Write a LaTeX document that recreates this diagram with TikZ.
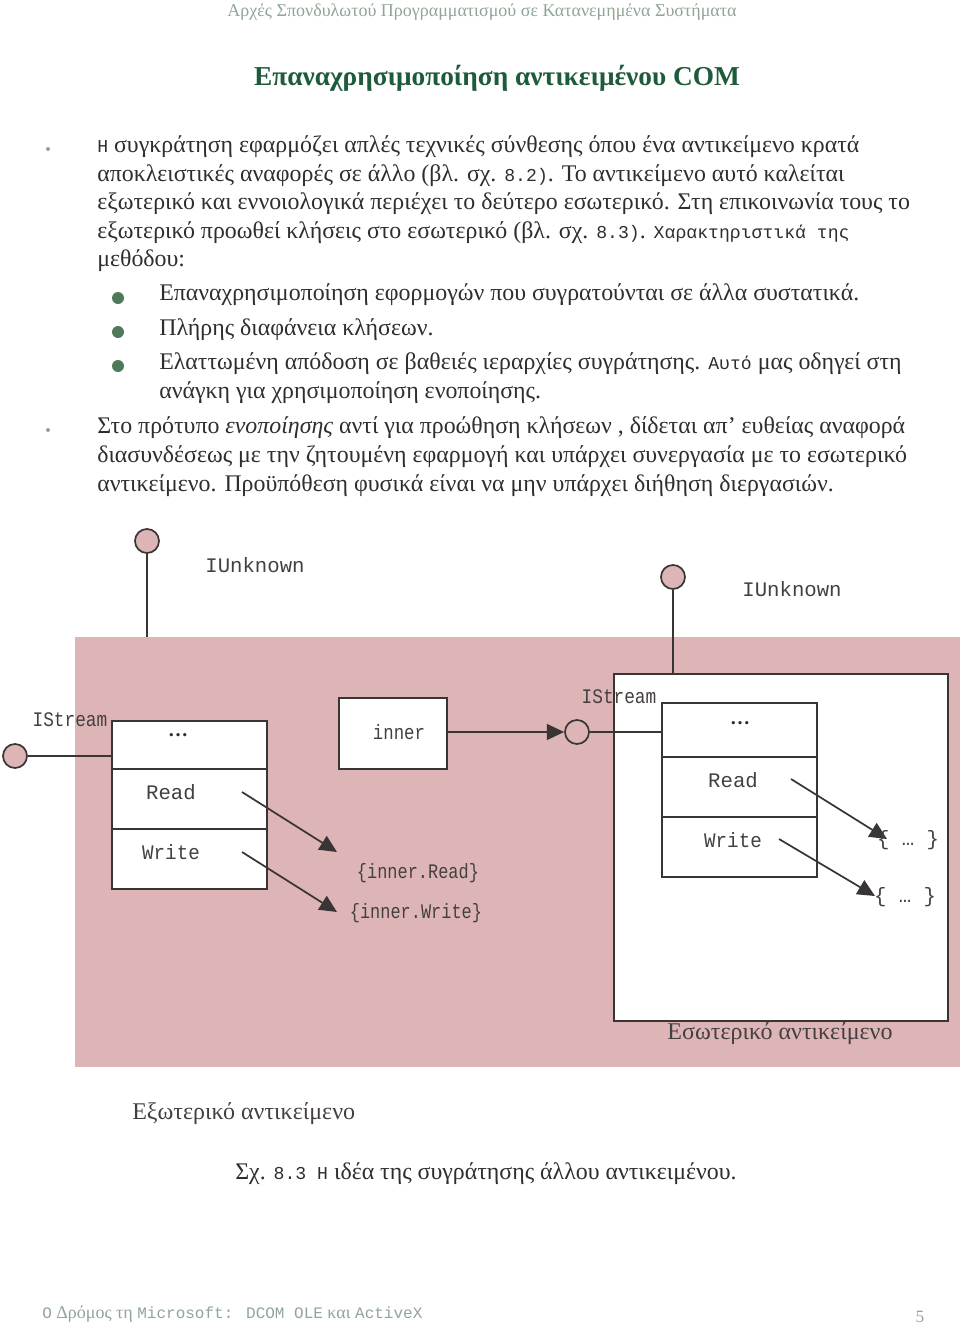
\documentclass[tikz,border=0pt]{standalone}
\usepackage{fontspec}
\setmainfont{Liberation Serif}
\newfontfamily\monof{Liberation Mono}
\usetikzlibrary{arrows.meta}
\definecolor{pinkbg}{HTML}{DEB5B6}
\definecolor{ln}{HTML}{3A3535}
\definecolor{titlegreen}{HTML}{1E5B3A}
\definecolor{headgrey}{HTML}{8FA595}
\definecolor{dotgreen}{HTML}{4E7A5C}
\definecolor{txt}{HTML}{2E2E2E}
\definecolor{dtxt}{HTML}{454040}
\newcommand\bodyf{\fontsize{17.9}{21}\selectfont}
\newcommand\bm[1]{{\monof\fontsize{13.6}{16}\selectfont #1}}
\newcommand\dgm{\monof\fontsize{15.5}{18}\selectfont}
\newcommand\nar[2]{\scalebox{#1}[1]{#2}}
\newcommand\fm[1]{{\monof\fontsize{12}{14}\selectfont #1}}
\begin{document}
\begin{tikzpicture}[x=0.75pt,y=-0.75pt,
  bodyline/.style={anchor=west,inner sep=0pt,text=txt,font=\bodyf},
  bigdot/.style={circle,fill=dotgreen,minimum size=9pt,inner sep=0pt},
  smalldot/.style={circle,fill=headgrey,minimum size=3pt,inner sep=0pt},
  cell/.style={draw=ln,line width=1.3pt,fill=white,minimum width=116.25pt,inner sep=0pt},
  lolli/.style={circle,draw=ln,line width=1.3pt,fill=pinkbg,minimum size=18pt,inner sep=0pt},
  wire/.style={draw=ln,line width=1.3pt},
  arr/.style={draw=ln,line width=1.3pt,-{Triangle[length=13pt,width=12pt]}},
  dlabel/.style={inner sep=0pt,text=dtxt,font=\dgm},
]
\useasboundingbox (0,0) rectangle (960,1324);
% header and title
\node[inner sep=0pt,text=headgrey,font=\fontsize{13.5}{16}\selectfont] (head) at (482,12) {Αρχές Σπονδυλωτού Προγραμματισμού σε Κατανεμημένα Συστήματα};
\node[inner sep=0pt,text=titlegreen,font=\bfseries\fontsize{20.5}{24}\selectfont] (title) at (497,78) {Επαναχρησιμοποίηση αντικειμένου COM};
% paragraph 1
\node[smalldot] (b1) at (48,149) {};
\node[bodyline] (p1a) at (97,147) {\bm{Η} συγκράτηση εφαρμόζει απλές τεχνικές σύνθεσης όπου ένα αντικείμενο κρατά};
\node[bodyline] (p1b) at (97,176) {αποκλειστικές αναφορές σε άλλο (βλ. σχ. \bm{8.2)}. Το αντικείμενο αυτό καλείται};
\node[bodyline] (p1c) at (97,204) {εξωτερικό και εννοιολογικά περιέχει το δεύτερο εσωτερικό. Στη επικοινωνία τους το};
\node[bodyline] (p1d) at (97,233) {εξωτερικό προωθεί κλήσεις στο εσωτερικό (βλ. σχ. \bm{8.3)}. \bm{Χαρακτηριστικά της}};
\node[bodyline] (p1e) at (97,261) {μεθόδου:};
% sub bullets
\node[bigdot] (s1) at (118,298) {};
\node[bigdot] (s2) at (118,332) {};
\node[bigdot] (s3) at (118,366) {};
\node[bodyline] (s1t) at (159,295) {Επαναχρησιμοποίηση εφορμογών που συγρατούνται σε άλλα συστατικά.};
\node[bodyline] (s2t) at (159,330) {Πλήρης διαφάνεια κλήσεων.};
\node[bodyline] (s3t) at (159,364) {Ελαττωμένη απόδοση σε βαθειές ιεραρχίες συγράτησης. \bm{Αυτό} μας οδηγεί στη};
\node[bodyline] (s3u) at (159,393) {ανάγκη για χρησιμοποίηση ενοποίησης.};
% paragraph 2
\node[smalldot] (b2) at (48,430) {};
\node[bodyline] (p2a) at (97,428) {Στο πρότυπο \textit{ενοποίησης} αντί για προώθηση κλήσεων , δίδεται απ’ ευθείας αναφορά};
\node[bodyline] (p2b) at (97,457) {διασυνδέσεως με την ζητουμένη εφαρμογή και υπάρχει συνεργασία με το εσωτερικό};
\node[bodyline] (p2c) at (97,486) {αντικείμενο. Προϋπόθεση φυσικά είναι να μην υπάρχει διήθηση διεργασιών.};
% diagram background (outer object)
\node[fill=pinkbg,inner sep=0pt,minimum width=663.75pt,minimum height=322.5pt,anchor=north west] (bg) at (75,637) {};
% inner object
\node[draw=ln,line width=1.3pt,fill=white,inner sep=0pt,minimum width=250.5pt,minimum height=260.25pt,anchor=north west] (inobj) at (613,673) {};
% left interface box
\node[cell,minimum height=36pt,anchor=north west] (l1) at (111,720) {};
\node[cell,minimum height=45pt,anchor=north west] (l2) at (111,768) {};
\node[cell,minimum height=45pt,anchor=north west] (l3) at (111,828) {};
\node[inner sep=0pt,font=\bfseries\fontsize{15}{18}\selectfont,text=txt] (l1t) at (178,735) {…};
\node[dlabel] (l2t) at (171,792) {Read};
\node[dlabel] (l3t) at (171,852) {\nar{0.93}{Write}};
% inner reference box
\node[draw=ln,line width=1.3pt,fill=white,inner sep=0pt,minimum width=81pt,minimum height=53.25pt,anchor=north west] (inner) at (338,697) {};
\node[dlabel] (innert) at (399,732) {\nar{0.84}{inner}};
% right interface box
\node[cell,minimum height=40.5pt,anchor=north west] (r1) at (661,702) {};
\node[cell,minimum height=45pt,anchor=north west] (r2) at (661,756) {};
\node[cell,minimum height=45pt,anchor=north west] (r3) at (661,816) {};
\node[inner sep=0pt,font=\bfseries\fontsize{15}{18}\selectfont,text=txt] (r1t) at (740,723) {…};
\node[dlabel] (r2t) at (733,780) {Read};
\node[dlabel] (r3t) at (733,840) {\nar{0.93}{Write}};
% lollipops
\node[lolli] (lu) at (147,541) {};
\node[lolli] (ru) at (673,577) {};
\node[lolli] (ls) at (15,756) {};
\node[lolli] (rs) at (577,732) {};
\draw[wire] (lu.south) -- (lu.south |- bg.north);
\draw[wire] (ru.south) -- (ru.south |- inobj.north);
\draw[wire] (ls.east) -- (ls.east -| l1.west);
\draw[arr] (inner.east |- rs) -- (rs.west);
\draw[wire] (rs.east) -- (rs.east -| r1.west);
% interface labels
\node[dlabel] (lul) at (255,565) {IUnknown};
\node[dlabel] (rul) at (792,589) {IUnknown};
\node[dlabel] (lsl) at (70,720) {\nar{0.86}{IStream}};
\node[dlabel] (rsl) at (619,697) {\nar{0.86}{IStream}};
% forwarding arrows
\coordinate (a1s) at (242,792);
\coordinate (a1e) at (337,852);
\coordinate (a2s) at (242,852);
\coordinate (a2e) at (337,912);
\draw[arr] (a1s) -- (a1e);
\draw[arr] (a2s) -- (a2e);
\node[dlabel] (ir) at (418,873) {\nar{0.82}{\{inner.Read\}}};
\node[dlabel] (iw) at (416,913) {\nar{0.82}{\{inner.Write\}}};
\coordinate (b1s) at (791,779);
\coordinate (b1e) at (887,839);
\coordinate (b2s) at (779,839);
\coordinate (b2e) at (875,896);
\draw[arr] (b1s) -- (b1e);
\draw[arr] (b2s) -- (b2e);
\node[dlabel] (e1) at (908,840) {\{ … \}};
\node[dlabel] (e2) at (905,897) {\{ … \}};
% object captions
\node[dlabel,font=\fontsize{18}{21}\selectfont] (inl) at (780,1034) {Εσωτερικό αντικείμενο};
\node[dlabel,font=\fontsize{18}{21}\selectfont,anchor=west] (outl) at (132,1114) {Εξωτερικό αντικείμενο};
\node[inner sep=0pt,text=txt,font=\bodyf] (cap) at (486,1174) {Σχ. \bm{8.3 Η} ιδέα της συγράτησης άλλου αντικειμένου.};
% footer
\node[inner sep=0pt,text=headgrey,font=\fontsize{13.5}{16}\selectfont,anchor=west] (foot) at (42,1314) {\fm{Ο} Δρόμος τη \fm{Microsoft: DCOM OLE} και \fm{ActiveX}};
\node[inner sep=0pt,text=headgrey,font=\fontsize{13}{16}\selectfont] (pg) at (920,1317) {5};
\end{tikzpicture}
\end{document}
